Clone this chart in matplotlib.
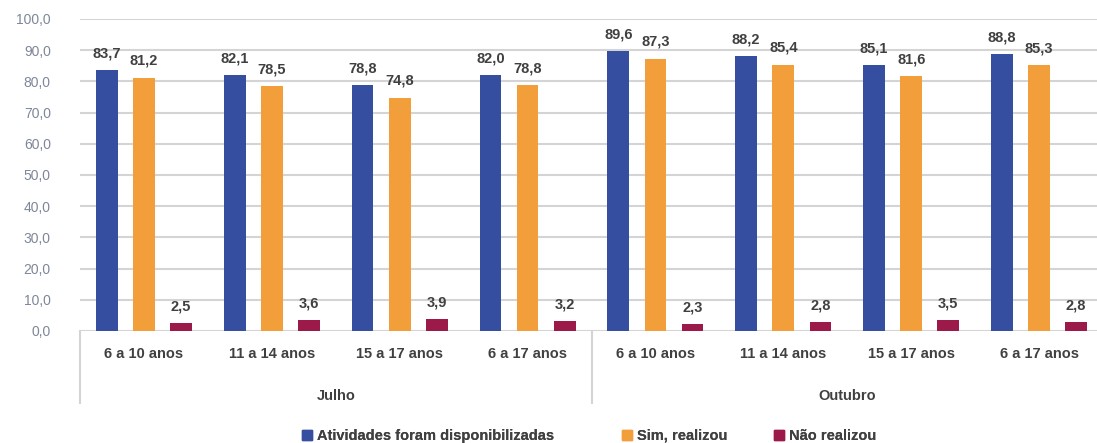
import matplotlib.pyplot as plt
import numpy as np
from matplotlib.patches import Patch

plt.rcParams["font.family"] = ["Liberation Sans", "DejaVu Sans"]

# faixas etárias por mês
age_groups = ["6 a 10 anos", "11 a 14 anos", "15 a 17 anos", "6 a 17 anos"]
months = ["Julho", "Outubro"]

disponibilizadas = [83.7, 82.1, 78.8, 82.0, 89.6, 88.2, 85.1, 88.8]
sim_realizou = [81.2, 78.5, 74.8, 78.8, 87.3, 85.4, 81.6, 85.3]
nao_realizou = [2.5, 3.6, 3.9, 3.2, 2.3, 2.8, 3.5, 2.8]

series_labels = ["Atividades foram disponibilizadas", "Sim, realizou", "Não realizou"]
colors = ["#354ea0", "#f29e3a", "#9b1a4a"]

text_color = "#404040"
tick_color = "#7d8799"
grid_color = "#d4d4d4"

fig = plt.figure(figsize=(10.97, 4.43), dpi=100)
ax = fig.add_axes([80 / 1097, 1 - 331 / 443, 1023 / 1097, 312 / 443])

x = np.arange(len(disponibilizadas))
offset = 0.29
width = 0.17

for i, values in enumerate([disponibilizadas, sim_realizou, nao_realizou]):
    pos = x + (i - 1) * offset
    ax.bar(pos, values, width=width, color=colors[i], zorder=3)
    for px, v in zip(pos, values):
        ax.annotate(
            f"{v:.1f}".replace(".", ","),
            (px, v),
            xytext=(0, 7),
            textcoords="offset points",
            ha="center",
            va="bottom",
            fontsize=10.5,
            fontweight="bold",
            color=text_color,
            zorder=4,
        )

ax.set_xlim(-0.5, len(x) - 0.5)
ax.set_ylim(0, 100)
ax.set_yticks(np.arange(0, 101, 10))
ax.set_yticklabels([f"{t:.1f}".replace(".", ",") for t in np.arange(0, 101, 10)])
ax.tick_params(axis="y", length=0, pad=21, labelsize=10, labelcolor=tick_color)
ax.set_xticks([])
ax.yaxis.grid(True, color=grid_color, linewidth=1.5, zorder=0)
for s in ax.spines.values():
    s.set_visible(False)

# rótulos das faixas etárias
labels = age_groups * len(months)
for px, lab in zip(x, labels):
    ax.text(px, -7.5, lab, ha="center", va="center", fontsize=10.5,
            fontweight="bold", color=text_color, clip_on=False)

# rótulos dos meses e divisórias
n = len(age_groups)
for j, month in enumerate(months):
    center = j * n + (n - 1) / 2
    ax.text(center, -20.8, month, ha="center", va="center", fontsize=10.5,
            fontweight="bold", color=text_color, clip_on=False)
for b in [-0.5, n - 0.5, 2 * n - 0.5]:
    ax.plot([b, b], [0, -23], color=grid_color, linewidth=1.5, clip_on=False)

# legenda: cada item posicionado separadamente
legend_x = [302, 622, 774]
for c, l, lx in zip(colors, series_labels, legend_x):
    leg = fig.legend(
        handles=[Patch(color=c, label=l)],
        loc="center left",
        bbox_to_anchor=(lx / 1097, 1 - 436 / 443),
        frameon=False,
        borderpad=0,
        borderaxespad=0,
        handlelength=0.7,
        handleheight=0.7,
        handletextpad=0.3,
        prop={"weight": "bold", "size": 10.5},
        labelcolor=text_color,
    )
    fig.add_artist(leg)

fig.savefig("out.png", dpi=100)
